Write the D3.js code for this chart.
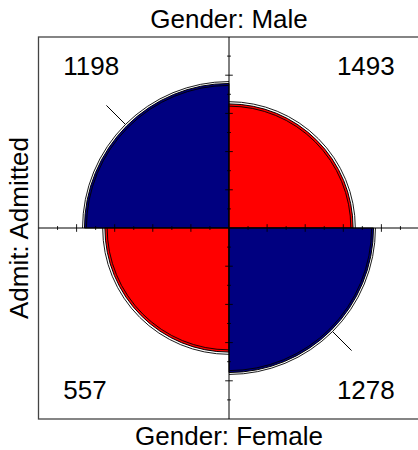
<!DOCTYPE html>
<html>
<head>
<meta charset="utf-8">
<script src="https://cdn.jsdelivr.net/npm/d3@7"></script>
<style>
  body { margin: 0; background: #fff; }
  text { font-family: "Liberation Sans", Arial, sans-serif; }
</style>
</head>
<body>
<div id="plot"></div>
<script>
// 2x2 table, rows = Gender, cols = Admit
var rowVar = "Gender", rowLevels = ["Male", "Female"];
var colVar = "Admit", colLevels = ["Admitted", "Rejected"];
var counts = [[1198, 1493], [557, 1278]];
var quadColors = ["#000080", "#FF0000"]; // diagonal, off-diagonal

var width = 418, height = 450;
var svg = d3.select("#plot").append("svg")
    .attr("width", width)
    .attr("height", height);

var x = d3.scaleLinear().domain([-1, 1]).range([38.5, 419.5]);
var y = d3.scaleLinear().domain([-1, 1]).range([419, 37]);
var unit = x(1) - x(0);
var cx = x(0), cy = y(0);

// standardize to equal margins (keeps the odds ratio)
function stdize(or) {
    var u = Math.sqrt(or);
    u = u / (1 + u);
    return [[u, 1 - u], [1 - u, u]];
}
var a = counts[0][0], b = counts[0][1], c = counts[1][0], d = counts[1][1];
var logOR = Math.log(a * d / (b * c));
var se = Math.sqrt(1 / a + 1 / b + 1 / c + 1 / d);
var z = 1.959964; // 95% conf level
var fit = stdize(Math.exp(logOR));
var fitLo = stdize(Math.exp(logOR - z * se));
var fitHi = stdize(Math.exp(logOR + z * se));

// quadrant angles for d3.arc (0 = 12 o'clock, clockwise)
var quads = [
    {i: 0, j: 0, a0: -Math.PI / 2, a1: 0},
    {i: 0, j: 1, a0: 0, a1: Math.PI / 2},
    {i: 1, j: 0, a0: Math.PI, a1: 3 * Math.PI / 2},
    {i: 1, j: 1, a0: Math.PI / 2, a1: Math.PI}
];

var g = svg.append("g").attr("transform", "translate(" + cx + "," + cy + ")");
var arc = d3.arc().innerRadius(0);

g.selectAll(".quad")
    .data(quads)
    .enter().append("path")
    .attr("class", "quad")
    .attr("d", function (q) {
        return arc({outerRadius: Math.sqrt(fit[q.i][q.j]) * unit, startAngle: q.a0, endAngle: q.a1});
    })
    .attr("fill", function (q) { return q.i == q.j ? quadColors[0] : quadColors[1]; })
    .attr("stroke", "#000")
    .attr("stroke-width", 1);

// confidence rings
function ring(r, a0, a1) {
    var p = d3.path();
    p.arc(0, 0, r, a0 - Math.PI / 2, a1 - Math.PI / 2);
    return p.toString();
}
quads.forEach(function (q) {
    [fitLo, fitHi].forEach(function (f) {
        g.append("path")
            .attr("d", ring(Math.sqrt(f[q.i][q.j]) * unit, q.a0, q.a1))
            .attr("fill", "none")
            .attr("stroke", "#000")
            .attr("stroke-width", 0.9);
    });
});

// pointer lines on the diagonal cells
[{q: quads[0], ang: -3 * Math.PI / 4}, {q: quads[3], ang: Math.PI / 4}].forEach(function (s) {
    var r0 = Math.max(Math.sqrt(fitLo[s.q.i][s.q.j]), Math.sqrt(fitHi[s.q.i][s.q.j])) * unit;
    var r1 = 0.91 * unit;
    g.append("line")
        .attr("x1", r0 * Math.cos(s.ang)).attr("y1", r0 * Math.sin(s.ang))
        .attr("x2", r1 * Math.cos(s.ang)).attr("y2", r1 * Math.sin(s.ang))
        .attr("stroke", "#000")
        .attr("stroke-width", 1);
});

// box
svg.append("rect")
    .attr("x", x(-1)).attr("y", y(1))
    .attr("width", x(1) - x(-1)).attr("height", y(-1) - y(1))
    .attr("fill", "none")
    .attr("stroke", "#444")
    .attr("stroke-width", 1.3);

// axes through the centre
svg.append("line").attr("x1", x(-1)).attr("x2", x(1)).attr("y1", cy).attr("y2", cy)
    .attr("stroke", "#000");
svg.append("line").attr("x1", cx).attr("x2", cx).attr("y1", y(-1)).attr("y2", y(1))
    .attr("stroke", "#000");

var ticks = d3.range(-9, 10).filter(function (k) { return k != 0; }).map(function (k) { return k / 10; });
ticks.forEach(function (t) {
    var len = (Math.round(t * 10) % 2 == 0) ? 0.02 : 0.01;
    svg.append("line")
        .attr("x1", x(t)).attr("x2", x(t))
        .attr("y1", y(-len)).attr("y2", y(len))
        .attr("stroke", "#000").attr("stroke-width", 0.9);
    svg.append("line")
        .attr("x1", x(-len)).attr("x2", x(len))
        .attr("y1", y(t)).attr("y2", y(t))
        .attr("stroke", "#000").attr("stroke-width", 0.9);
});

// cell counts: left cells left-aligned, right cells right-aligned
var fs = 26;
var cellX = [-0.87, 0.87], cellY = [0.85, -0.85];
counts.forEach(function (row, i) {
    row.forEach(function (v, j) {
        svg.append("text")
            .attr("x", x(cellX[j]))
            .attr("y", y(cellY[i]))
            .attr("dy", "0.35em")
            .attr("text-anchor", j == 0 ? "start" : "end")
            .attr("font-size", fs)
            .text(v);
    });
});

// margin labels (the right-hand "Admit: Rejected" falls outside the window)
svg.append("text")
    .attr("x", cx).attr("y", 28)
    .attr("text-anchor", "middle").attr("font-size", fs)
    .text(rowVar + ": " + rowLevels[0]);
svg.append("text")
    .attr("x", cx).attr("y", 445)
    .attr("text-anchor", "middle").attr("font-size", fs)
    .text(rowVar + ": " + rowLevels[1]);
svg.append("text")
    .attr("transform", "translate(28," + cy + ") rotate(-90)")
    .attr("text-anchor", "middle").attr("font-size", fs)
    .text(colVar + ": " + colLevels[0]);
</script>
</body>
</html>
